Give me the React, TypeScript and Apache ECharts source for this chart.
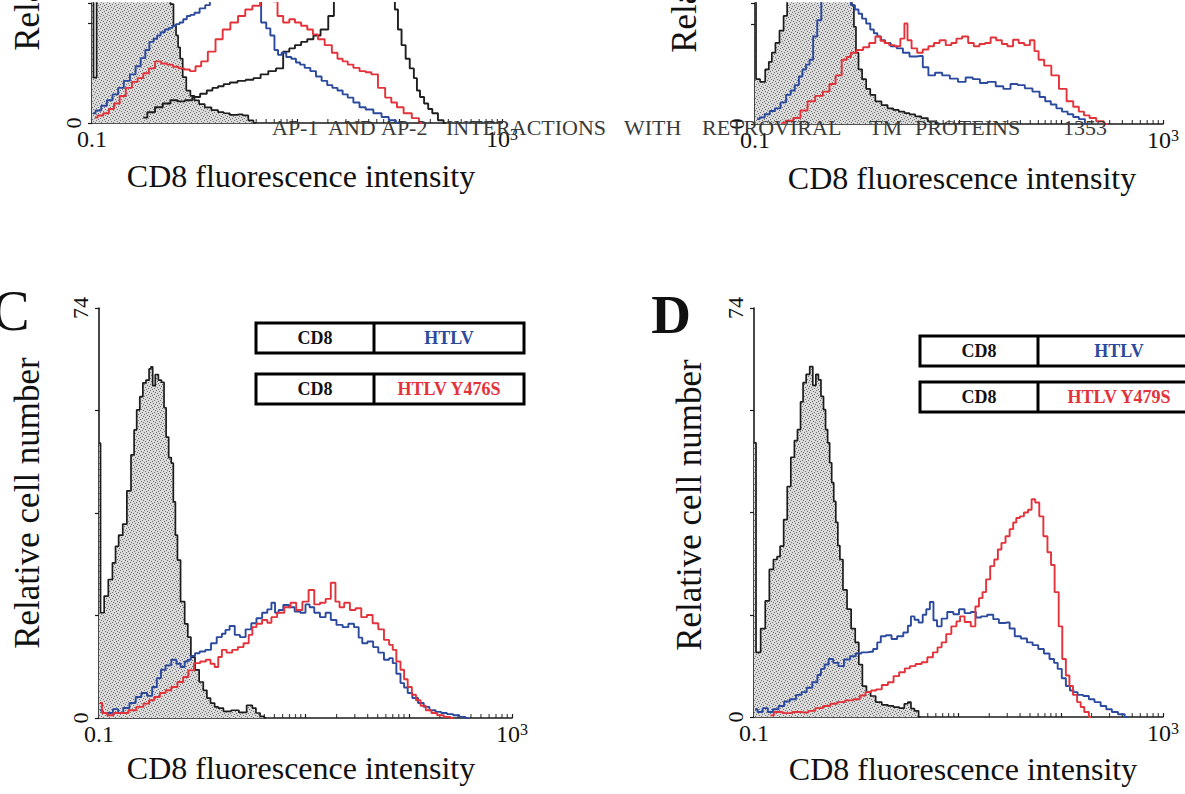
import React, { useEffect, useRef } from 'react';
import * as echarts from 'echarts';

// ---- axis ranges / labels ----
const X_MIN = 0.1;
const X_MAX = 1000;
const Y_MAX = 74;
const Y_INTERVAL = 18.5;
// the page cuts panels A and B at about this height (relative cell number)
const Y_VISIBLE_TOP_A = 22.2;
const Y_VISIBLE_TOP_B = 22.4;
const xTickLabels = ['0.1', '10', '3'];
const yTickLabels = ['0', '74'];
const minorTickValues = [0.2, 0.3, 0.4, 0.5, 0.6, 0.7, 0.8, 0.9, 2, 3, 4, 5, 6, 7, 8, 9, 20, 30, 40, 50, 60, 70, 80, 90, 200, 300, 400, 500, 600, 700, 800, 900];

// ---- histogram data: [log10(CD8 fluorescence intensity), relative cell number] ----
// Panel A (cropped at top of page)
const aControl = [[-1.0, 45], [-0.97, 8.4], [-0.94, 26], [-0.9, 32], [-0.85, 36], [-0.8, 42], [-0.75, 50], [-0.7, 56], [-0.65, 60], [-0.6, 63], [-0.55, 62], [-0.5, 64], [-0.45, 60], [-0.4, 55], [-0.35, 45], [-0.3, 36], [-0.25, 27], [-0.22, 22], [-0.19, 18], [-0.17, 16.2], [-0.15, 14], [-0.13, 11.9], [-0.1, 8.5], [-0.06, 6.0], [-0.02, 5.0], [0.02, 4.2], [0.07, 3.5], [0.13, 2.9], [0.2, 2.4], [0.26, 2.0], [0.31, 1.8], [0.38, 1.5], [0.44, 1.6], [0.5, 1.4], [0.55, 0.5], [0.6, 0]];
const aBlue = [[-0.99, 1.8], [-0.94, 2.3], [-0.88, 3.2], [-0.83, 4.2], [-0.77, 5.3], [-0.72, 6.5], [-0.66, 7.8], [-0.6, 9.0], [-0.55, 10.5], [-0.5, 12.0], [-0.46, 13.5], [-0.42, 15.0], [-0.38, 15.6], [-0.35, 16.2], [-0.31, 16.8], [-0.27, 17.3], [-0.23, 17.6], [-0.2, 18.0], [-0.16, 18.3], [-0.13, 18.6], [-0.09, 19.2], [-0.06, 19.8], [-0.02, 20.0], [0.02, 20.4], [0.08, 21.2], [0.13, 21.8], [0.17, 22.6], [0.25, 26], [0.35, 30], [0.45, 31], [0.55, 28], [0.62, 23], [0.68, 18.6], [0.72, 17.5], [0.76, 16.2], [0.8, 13.5], [0.83, 12.6], [0.87, 13.0], [0.92, 12.2], [0.97, 11.9], [1.01, 11.2], [1.05, 10.8], [1.1, 10.2], [1.16, 9.6], [1.21, 8.6], [1.27, 7.8], [1.32, 7.0], [1.37, 6.5], [1.42, 6.0], [1.47, 5.3], [1.52, 4.7], [1.58, 3.8], [1.64, 2.9], [1.7, 2.5], [1.79, 1.8], [1.86, 1.1], [1.93, 0.5], [2.0, 0]];
const aRed = [[-0.97, 1.0], [-0.92, 1.4], [-0.86, 1.8], [-0.81, 2.6], [-0.76, 3.6], [-0.7, 5.0], [-0.64, 6.5], [-0.58, 7.6], [-0.53, 8.3], [-0.47, 9.2], [-0.42, 10.1], [-0.35, 11.4], [-0.3, 11.0], [-0.24, 10.8], [-0.18, 10.4], [-0.13, 10.1], [-0.07, 9.9], [-0.02, 9.6], [0.04, 10.5], [0.09, 11.4], [0.17, 13.2], [0.24, 15.5], [0.31, 17.3], [0.39, 18.6], [0.46, 19.8], [0.53, 21.0], [0.6, 21.7], [0.68, 23.5], [0.74, 24], [0.79, 22.5], [0.83, 19.8], [0.9, 18.6], [0.95, 19.2], [1.01, 18.6], [1.07, 18.0], [1.13, 17.3], [1.18, 16.4], [1.23, 15.5], [1.31, 14.4], [1.37, 13.0], [1.42, 11.9], [1.47, 11.4], [1.52, 10.8], [1.58, 10.2], [1.64, 9.6], [1.7, 9.4], [1.75, 9.0], [1.83, 6.5], [1.89, 4.7], [1.95, 3.8], [2.0, 2.9], [2.08, 1.8], [2.16, 0.9], [2.22, 0]];
const aBlack = [[-0.5, 1.0], [-0.42, 2.0], [-0.35, 2.9], [-0.27, 3.6], [-0.2, 4.2], [-0.13, 4.0], [-0.06, 4.2], [0.02, 4.8], [0.09, 5.4], [0.15, 6.0], [0.2, 6.5], [0.26, 6.8], [0.31, 7.2], [0.38, 7.5], [0.46, 7.8], [0.54, 8.0], [0.61, 8.3], [0.68, 9.0], [0.76, 9.6], [0.83, 10.1], [0.9, 13.2], [0.95, 13.8], [1.01, 14.4], [1.07, 15.0], [1.13, 15.5], [1.19, 16.2], [1.27, 17.3], [1.34, 19.8], [1.38, 23], [1.5, 32], [1.65, 42], [1.8, 48], [1.9, 40], [1.94, 30], [1.97, 21.0], [2.0, 17.3], [2.04, 14.4], [2.08, 11.9], [2.12, 10.1], [2.16, 8.3], [2.18, 6.0], [2.22, 4.8], [2.26, 3.6], [2.3, 2.6], [2.34, 1.8], [2.41, 0.5], [2.45, 0]];

// Panel B (cropped at top of page)
const bControl = [[-1.0, 45], [-0.98, 8.3], [-0.92, 7.8], [-0.88, 10.1], [-0.85, 11.5], [-0.82, 13.2], [-0.78, 15.0], [-0.74, 17.3], [-0.7, 20], [-0.67, 23], [-0.6, 35], [-0.5, 50], [-0.4, 60], [-0.3, 58], [-0.2, 48], [-0.12, 35], [-0.06, 25], [-0.04, 22], [-0.02, 18], [0.0, 13.2], [0.03, 10.1], [0.07, 8.3], [0.11, 6.5], [0.15, 5.4], [0.21, 4.2], [0.27, 3.5], [0.33, 2.9], [0.38, 2.6], [0.44, 2.3], [0.49, 2.0], [0.54, 1.8], [0.6, 1.4], [0.66, 1.1], [0.73, 0.5], [0.81, 0]];
const bBlue = [[-0.98, 0.9], [-0.93, 1.2], [-0.88, 1.8], [-0.83, 2.4], [-0.78, 2.9], [-0.72, 4.0], [-0.67, 5.4], [-0.63, 6.2], [-0.59, 7.2], [-0.55, 8.8], [-0.52, 10.1], [-0.48, 11.0], [-0.45, 11.9], [-0.41, 16.2], [-0.37, 19.2], [-0.33, 23], [-0.25, 30], [-0.15, 32], [-0.08, 26], [-0.04, 22.0], [0.0, 21.2], [0.03, 20.4], [0.07, 19.5], [0.11, 18.6], [0.15, 17.5], [0.18, 16.8], [0.22, 16.2], [0.25, 15.5], [0.3, 15.0], [0.36, 14.4], [0.42, 14.0], [0.48, 13.2], [0.55, 12.5], [0.62, 12.6], [0.67, 10.5], [0.73, 9.0], [0.8, 9.5], [0.87, 9.0], [0.95, 8.4], [1.03, 7.8], [1.1, 8.6], [1.17, 8.3], [1.24, 7.6], [1.32, 7.8], [1.4, 7.0], [1.47, 6.5], [1.54, 7.4], [1.61, 7.2], [1.68, 6.6], [1.76, 6.0], [1.82, 5.0], [1.87, 4.2], [1.93, 3.6], [1.98, 2.9], [2.04, 2.3], [2.09, 1.8], [2.15, 1.3], [2.2, 0.9], [2.27, 0]];
const bRed = [[-0.74, 0.2], [-0.66, 0.6], [-0.59, 1.1], [-0.52, 2.5], [-0.45, 4.2], [-0.37, 5.2], [-0.3, 6.0], [-0.24, 7.4], [-0.18, 9.0], [-0.12, 11.9], [-0.08, 12.4], [-0.04, 13.2], [0.03, 13.7], [0.09, 14.2], [0.15, 15.0], [0.21, 16.2], [0.25, 15.4], [0.29, 15.0], [0.34, 14.6], [0.4, 14.4], [0.45, 15.8], [0.48, 18.6], [0.51, 15.5], [0.56, 14.0], [0.62, 13.2], [0.67, 13.8], [0.73, 14.4], [0.78, 15.0], [0.84, 15.5], [0.9, 14.6], [0.95, 15.0], [1.0, 15.8], [1.06, 16.2], [1.12, 15.0], [1.17, 14.4], [1.23, 14.8], [1.28, 15.0], [1.34, 16.0], [1.39, 15.5], [1.45, 14.8], [1.5, 14.4], [1.56, 15.6], [1.61, 15.0], [1.67, 14.6], [1.72, 15.5], [1.76, 13.5], [1.8, 11.9], [1.87, 10.8], [1.94, 9.0], [2.02, 6.5], [2.09, 4.2], [2.15, 3.2], [2.2, 2.3], [2.25, 1.6], [2.31, 1.1], [2.38, 0.5], [2.46, 0]];

// Panel C
const cControl = [[-1.0, 49.6], [-0.97, 19], [-0.93, 22], [-0.89, 25], [-0.85, 28], [-0.83, 31], [-0.79, 33], [-0.75, 35], [-0.71, 41], [-0.67, 47.5], [-0.65, 52], [-0.62, 55.6], [-0.59, 58], [-0.56, 60.5], [-0.53, 61], [-0.5, 63], [-0.49, 63.4], [-0.47, 60], [-0.44, 62], [-0.41, 61], [-0.38, 60.6], [-0.36, 56], [-0.34, 50.7], [-0.31, 47], [-0.29, 46], [-0.27, 39], [-0.25, 33], [-0.23, 28.5], [-0.19, 21], [-0.15, 17], [-0.13, 14.6], [-0.09, 11], [-0.05, 8.7], [-0.01, 6.5], [0.03, 5], [0.06, 3.6], [0.1, 2.7], [0.14, 2.0], [0.17, 1.8], [0.24, 1.2], [0.32, 1.4], [0.39, 1.0], [0.47, 2.3], [0.5, 1.8], [0.54, 0.9], [0.58, 0.3], [0.62, 0]];
const cBlue = [[-0.99, 1.4], [-0.94, 0.9], [-0.89, 0.9], [-0.84, 1.6], [-0.79, 0.9], [-0.74, 1.8], [-0.67, 2.7], [-0.62, 3.8], [-0.56, 4.5], [-0.51, 4.0], [-0.46, 5.6], [-0.42, 7.2], [-0.38, 8.7], [-0.33, 9.5], [-0.27, 10.5], [-0.23, 9.8], [-0.19, 9.2], [-0.15, 10.2], [-0.13, 10.5], [-0.09, 11.2], [-0.05, 11.7], [0.0, 12.0], [0.06, 12.3], [0.11, 13.5], [0.17, 14.6], [0.21, 15.2], [0.24, 15.9], [0.29, 16.6], [0.34, 15.0], [0.39, 14.6], [0.45, 16.0], [0.5, 17.1], [0.55, 18.0], [0.61, 19.0], [0.65, 19.6], [0.69, 20.8], [0.72, 19.0], [0.76, 19.5], [0.81, 20.4], [0.87, 20.0], [0.92, 19.2], [0.98, 19.0], [1.02, 20.5], [1.06, 20.0], [1.11, 19.0], [1.17, 18.2], [1.22, 19.0], [1.27, 17.7], [1.33, 16.8], [1.39, 16.4], [1.44, 17.0], [1.5, 16.4], [1.53, 14.5], [1.57, 13.5], [1.63, 13.8], [1.68, 12.8], [1.73, 11.8], [1.79, 10.5], [1.83, 10.8], [1.86, 9.9], [1.9, 8.0], [1.94, 6.3], [1.97, 5.5], [2.01, 4.5], [2.06, 3.6], [2.12, 2.7], [2.17, 2.0], [2.23, 1.4], [2.29, 1.1], [2.34, 0.9], [2.4, 0.7], [2.46, 0.5], [2.52, 0.2], [2.58, 0]];
const cRed = [[-0.99, 2.7], [-0.95, 0.9], [-0.89, 0.5], [-0.83, 0.9], [-0.75, 0.9], [-0.68, 1.4], [-0.6, 2.0], [-0.54, 2.6], [-0.49, 3.2], [-0.44, 3.8], [-0.38, 4.5], [-0.33, 5.0], [-0.27, 5.6], [-0.21, 6.5], [-0.16, 7.4], [-0.11, 8.6], [-0.05, 9.9], [0.01, 10.2], [0.06, 10.5], [0.1, 9.8], [0.14, 9.2], [0.17, 11.0], [0.21, 12.3], [0.26, 11.8], [0.32, 12.3], [0.37, 12.8], [0.43, 13.5], [0.47, 15.0], [0.5, 16.4], [0.55, 17.0], [0.61, 17.7], [0.65, 17.2], [0.69, 18.2], [0.76, 19.0], [0.83, 20.0], [0.88, 20.8], [0.94, 19.5], [1.0, 21.0], [1.06, 23.1], [1.11, 20.5], [1.17, 20.8], [1.22, 21.5], [1.27, 24.4], [1.31, 21.0], [1.35, 20.0], [1.4, 20.8], [1.46, 19.5], [1.51, 19.8], [1.57, 18.2], [1.62, 18.6], [1.68, 17.1], [1.73, 16.0], [1.79, 14.1], [1.83, 13.2], [1.86, 12.3], [1.9, 10.2], [1.94, 8.7], [1.97, 7.0], [2.01, 5.6], [2.05, 4.2], [2.09, 3.2], [2.14, 2.2], [2.19, 1.4], [2.25, 0.9], [2.3, 0.5], [2.38, 0.2], [2.43, 0]];

// Panel D
const dControl = [[-1.0, 49.6], [-0.96, 11.7], [-0.91, 16], [-0.87, 21], [-0.83, 26.7], [-0.79, 28.5], [-0.76, 29], [-0.73, 30.9], [-0.69, 35.7], [-0.66, 41.7], [-0.62, 47], [-0.59, 50], [-0.56, 52], [-0.53, 57], [-0.51, 60.5], [-0.47, 62], [-0.44, 63.4], [-0.41, 60], [-0.38, 62], [-0.36, 61], [-0.33, 58], [-0.31, 55.6], [-0.29, 52], [-0.27, 49.6], [-0.25, 46], [-0.23, 42.4], [-0.21, 39], [-0.19, 35.2], [-0.17, 31], [-0.15, 28.5], [-0.11, 23], [-0.07, 19.5], [-0.03, 16], [0.01, 13.5], [0.04, 9.5], [0.08, 5.6], [0.12, 4.5], [0.16, 3.8], [0.22, 2.7], [0.28, 2.2], [0.34, 2.0], [0.39, 1.8], [0.45, 1.6], [0.49, 2.4], [0.52, 2.7], [0.55, 1.5], [0.59, 1.1], [0.63, 0]];
const dBlue = [[-0.99, 1.4], [-0.94, 0.9], [-0.89, 1.6], [-0.84, 0.9], [-0.79, 1.4], [-0.73, 2.0], [-0.68, 2.8], [-0.62, 3.2], [-0.56, 4.0], [-0.51, 4.5], [-0.46, 5.3], [-0.4, 6.3], [-0.36, 7.6], [-0.33, 8.7], [-0.29, 9.5], [-0.25, 10.5], [-0.2, 9.8], [-0.15, 9.2], [-0.09, 10.4], [-0.03, 11.0], [0.02, 11.5], [0.08, 11.7], [0.14, 11.8], [0.19, 12.3], [0.22, 13.5], [0.26, 14.6], [0.32, 14.8], [0.37, 14.1], [0.43, 14.6], [0.49, 15.3], [0.52, 16.5], [0.55, 18.2], [0.59, 17.6], [0.63, 17.1], [0.67, 18.5], [0.7, 19.5], [0.74, 20.8], [0.77, 17.5], [0.81, 16.4], [0.86, 17.8], [0.92, 19.0], [0.98, 18.6], [1.03, 19.5], [1.09, 18.8], [1.15, 19.0], [1.19, 18.0], [1.25, 18.2], [1.31, 18.5], [1.37, 17.7], [1.42, 17.0], [1.48, 17.1], [1.52, 16.0], [1.58, 14.6], [1.64, 14.2], [1.7, 13.5], [1.75, 13.0], [1.81, 12.3], [1.86, 11.5], [1.92, 10.5], [1.95, 9.8], [1.99, 8.7], [2.03, 7.0], [2.07, 5.6], [2.11, 4.8], [2.14, 4.5], [2.19, 4.0], [2.25, 3.8], [2.3, 3.2], [2.36, 2.7], [2.42, 2.0], [2.47, 1.4], [2.53, 0.9], [2.59, 0.5], [2.66, 0]];
const dRed = [[-0.84, 0.3], [-0.77, 0.9], [-0.67, 0.7], [-0.58, 0.9], [-0.5, 0.8], [-0.44, 1.1], [-0.36, 1.6], [-0.29, 2.0], [-0.22, 2.4], [-0.15, 2.7], [-0.07, 3.0], [0.01, 3.2], [0.06, 3.9], [0.12, 4.5], [0.17, 4.8], [0.22, 5.0], [0.28, 5.8], [0.34, 6.3], [0.39, 7.4], [0.45, 8.1], [0.5, 8.8], [0.55, 9.2], [0.61, 9.6], [0.67, 9.9], [0.72, 10.8], [0.78, 11.7], [0.81, 12.6], [0.86, 13.5], [0.9, 15.0], [0.96, 16.4], [1.0, 17.3], [1.03, 18.2], [1.09, 17.2], [1.15, 16.4], [1.18, 20.0], [1.22, 21.5], [1.25, 22.6], [1.29, 24.9], [1.33, 27.3], [1.37, 28.5], [1.4, 30.3], [1.44, 31.5], [1.48, 32.7], [1.52, 34.0], [1.55, 35.2], [1.58, 36.0], [1.62, 36.3], [1.66, 37.0], [1.7, 37.5], [1.73, 39.4], [1.77, 38.8], [1.81, 36.3], [1.85, 32.7], [1.89, 29.8], [1.92, 27.5], [1.96, 22.6], [2.0, 16.4], [2.03, 10.5], [2.07, 7.5], [2.1, 5.6], [2.14, 4.0], [2.18, 2.7], [2.21, 1.8], [2.25, 0.9], [2.3, 0]];

// ---- legend / labels ----
const legendC = ['CD8', 'HTLV', 'CD8', 'HTLV Y476S'];
const legendD = ['CD8', 'HTLV', 'CD8', 'HTLV Y479S'];
const headerWords = ['AP-1', 'AND', 'AP-2', 'INTERACTIONS', 'WITH', 'RETROVIRAL', 'TM', 'PROTEINS', '1353'];
const headerX = [272, 328, 381, 446, 624, 702, 869, 915, 1063];

const SERIF = "'Liberation Serif', 'DejaVu Serif', serif";
const BLUE = '#2b4a9e';
const RED = '#e3323a';

// grid pixel layout [left, top, width, height] and visible y max of each panel
const GRIDS = [
  [92, 0, 410, 123],
  [755, 0, 408, 124],
  [99, 308, 413, 410],
  [754, 308, 409, 409],
];
const PANEL_Y_MAX = [Y_VISIBLE_TOP_A, Y_VISIBLE_TOP_B, Y_MAX, Y_MAX];

const toXY = (arr: number[][]) => arr.map(([e, v]) => [Math.pow(10, e), v]);

function makeStipple(): any {
  const c = document.createElement('canvas');
  c.width = 6;
  c.height = 6;
  const g = c.getContext('2d');
  if (!g) return '#c8c8c8';
  g.fillStyle = '#dadada';
  g.fillRect(0, 0, 6, 6);
  g.fillStyle = '#6f6f6f';
  const dots = [[0, 0], [3, 1], [1, 3], [4, 4], [2, 5], [5, 2]];
  dots.forEach(([x, y]) => g.fillRect(x, y, 1, 1));
  return { image: c, repeat: 'repeat' };
}

export default function App() {
  const ref = useRef<HTMLDivElement>(null);
  useEffect(() => {
    if (!ref.current) return;
    const chart = echarts.init(ref.current, null, { renderer: 'svg' });
    const greyFill = makeStipple();

    const grid = GRIDS.map(([left, top, width, height]) => ({ left, top, width, height, containLabel: false }));
    const xAxis = GRIDS.map((_, i) => ({
      type: 'log', logBase: 10, min: X_MIN, max: X_MAX, gridIndex: i, splitNumber: 4,
      axisLine: { show: true, lineStyle: { color: '#1a1a1a', width: 1.6 } },
      axisTick: { show: true, inside: true, length: 4, lineStyle: { color: '#1a1a1a', width: 1.2 } },
      splitLine: { show: false },
      axisLabel: {
        show: true, margin: 3, fontSize: 23, fontFamily: SERIF, color: '#111',
        formatter: (v: number) =>
          Math.abs(v - X_MIN) < 1e-9 ? `{n|${xTickLabels[0]}}` : Math.abs(v - X_MAX) < 1e-6 ? `{n|${xTickLabels[1]}}{s|${xTickLabels[2]}}` : '',
        rich: {
          n: { fontSize: 24, fontFamily: SERIF, color: '#111', lineHeight: 26 },
          s: { fontSize: 16, fontFamily: SERIF, color: '#111', lineHeight: 14, verticalAlign: 'top' },
        },
      },
    }));
    const yAxis = GRIDS.map((_, i) => ({
      type: 'value', min: 0, max: PANEL_Y_MAX[i], interval: Y_INTERVAL, gridIndex: i,
      axisLine: { show: true, lineStyle: { color: '#1a1a1a', width: 1.6 } },
      axisTick: { show: true, inside: false, length: 4, lineStyle: { color: '#1a1a1a', width: 1.2 } },
      splitLine: { show: false },
      axisLabel: {
        show: true, rotate: 90, margin: 8, fontSize: 22, fontFamily: SERIF, color: '#111',
        formatter: (v: number) => (Math.abs(v) < 1e-9 ? yTickLabels[0] : Math.abs(v - Y_MAX) < 1e-6 ? yTickLabels[1] : ''),
      },
    }));

    const line = (data: number[][], color: string, i: number, z = 3) => ({
      type: 'line', step: 'middle', symbol: 'none', data: toXY(data), xAxisIndex: i, yAxisIndex: i, z,
      lineStyle: { color, width: 1.9 }, silent: true,
    });
    const control = (data: number[][], i: number) => ({
      type: 'line', step: 'middle', symbol: 'none', data: toXY(data), xAxisIndex: i, yAxisIndex: i, z: 2,
      lineStyle: { color: '#1c1c1c', width: 1.7 }, areaStyle: { color: greyFill, opacity: 1 }, silent: true,
    });
    const minor = (i: number) => ({
      type: 'scatter', xAxisIndex: i, yAxisIndex: i, data: minorTickValues.map((v) => [v, 0]),
      symbol: 'rect', symbolSize: [1.2, 4], symbolOffset: [0, -2], itemStyle: { color: '#1a1a1a' }, z: 1, silent: true,
    });

    const series = [
      control(aControl, 0), line(aBlack, '#1f1f1f', 0), line(aBlue, BLUE, 0), line(aRed, RED, 0), minor(0),
      control(bControl, 1), line(bBlue, BLUE, 1), line(bRed, RED, 1), minor(1),
      control(cControl, 2), line(cBlue, BLUE, 2), line(cRed, RED, 2), minor(2),
      control(dControl, 3), line(dBlue, BLUE, 3), line(dRed, RED, 3, 4), minor(3),
    ];

    const txt = (text: string, x: number, y: number, size: number, opts: any = {}) => ({
      type: 'text', x, y, rotation: opts.rotation || 0, z: 10,
      style: {
        text, fill: opts.fill || '#111', font: `${opts.weight || 'normal'} ${size}px ${SERIF}`,
        textAlign: opts.align || 'center', textVerticalAlign: 'middle', align: opts.align || 'center', verticalAlign: 'middle',
      },
    });
    const box = (x: number, y: number, w: number, h: number, div: number, left: string, right: string, color: string) => [
      { type: 'rect', z: 10, shape: { x, y, width: w, height: h }, style: { fill: '#fff', stroke: '#000', lineWidth: 3 } },
      { type: 'line', z: 10, shape: { x1: div, y1: y, x2: div, y2: y + h }, style: { stroke: '#000', lineWidth: 3 } },
      txt(left, (x + div) / 2, y + h / 2, 18, { weight: 'bold' }),
      txt(right, (div + x + w) / 2, y + h / 2, 18, { weight: 'bold', fill: color }),
    ];

    const graphic: any[] = [
      ...headerWords.map((w, k) => txt(w, headerX[k], 127, 22, { align: 'left', fill: '#3a3a3a' })),
      txt('CD8 fluorescence intensity', 301, 176, 32),
      txt('CD8 fluorescence intensity', 962, 178, 32),
      txt('CD8 fluorescence intensity', 301, 768, 32),
      txt('CD8 fluorescence intensity', 963, 769, 32),
      txt('Relative cell number', 27, -95, 35, { rotation: Math.PI / 2 }),
      txt('Relative cell number', 684, -93, 35, { rotation: Math.PI / 2 }),
      txt('Relative cell number', 27, 503, 35, { rotation: Math.PI / 2 }),
      txt('Relative cell number', 689, 505, 35, { rotation: Math.PI / 2 }),
      txt('C', 11, 311, 56),
      txt('D', 671, 314, 55, { weight: 'bold' }),
      ...box(256, 323, 268, 30, 374, legendC[0], legendC[1], BLUE),
      ...box(256, 374, 268, 30, 374, legendC[2], legendC[3], RED),
      ...box(920, 336, 280, 30, 1038, legendD[0], legendD[1], BLUE),
      ...box(920, 382, 280, 30, 1038, legendD[2], legendD[3], RED),
    ];

    chart.setOption({
      animation: false,
      backgroundColor: '#ffffff',
      grid, xAxis, yAxis, series, graphic,
    });
    return () => chart.dispose();
  }, []);

  return <div ref={ref} style={{ position: 'fixed', left: 0, top: 0, width: 1185, height: 794, background: '#fff' }} />;
}
